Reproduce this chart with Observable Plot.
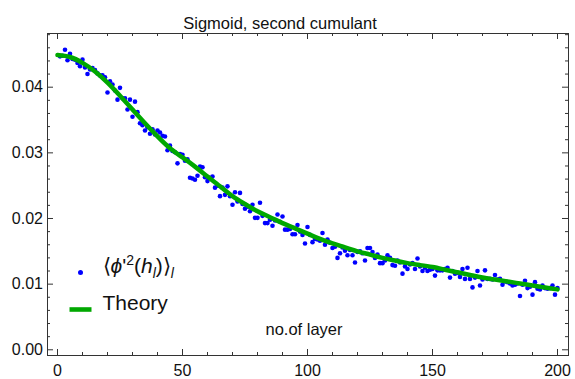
<!DOCTYPE html>
<html><head><meta charset="utf-8">
<script src="https://cdn.jsdelivr.net/npm/d3@7"></script>
<script src="https://cdn.jsdelivr.net/npm/@observablehq/plot@0.6"></script>
<style>body{margin:0;background:#fff} svg{display:block}</style>
</head><body><div id="chart"></div>
<script>
const title = "Sigmoid, second cumulant";
const xLabel = "no.of layer";
const pointsLabel = "\u27E8\u03D5'2(hl)\u27E9l";
const theoryLabel = "Theory";

const layers = d3.range(1, 201);
const measured = [
 .0447,.0448,.0457,.0441,.0451,.0443,.0442,.0437,.0432,.0442,
 .0430,.0420,.0427,.0429,.0426,.0421,.0418,.0418,.0415,.0392,
 .0409,.0404,.0395,.0381,.0399,.0383,.0383,.0366,.0381,.0355,
 .0378,.0362,.0345,.0342,.0334,.0339,.0329,.0336,.0328,.0334,
 .0331,.0326,.0325,.0304,.0311,.0303,.0301,.0284,.0298,.0297,
 .0288,.0290,.0262,.0261,.0259,.0265,.0279,.0278,.0263,.0257,
 .0262,.0264,.0247,.0250,.0234,.0247,.0236,.0249,.0234,.0221,
 .0240,.0226,.0239,.0222,.0215,.0218,.0211,.0221,.0201,.0201,
 .0224,.0204,.0193,.0193,.0198,.0189,.0197,.0206,.0195,.0203,
 .0183,.0183,.0184,.0176,.0176,.0190,.0180,.0175,.0162,.0187,
 .0175,.0164,.0169,.0168,.0166,.0178,.0160,.0168,.0163,.0155,
 .0157,.0140,.0147,.0156,.0151,.0144,.0152,.0144,.0133,.0149,
 .0150,.0147,.0136,.0155,.0155,.0149,.0140,.0145,.0132,.0132,
 .0136,.0144,.0140,.0129,.0128,.0136,.0133,.0116,.0127,.0123,
 .0130,.0132,.0123,.0139,.0127,.0120,.0125,.0120,.0122,.0123,
 .0113,.0121,.0121,.0121,.0123,.0125,.0110,.0120,.0116,.0117,
 .0111,.0123,.0108,.0125,.0108,.0095,.0110,.0120,.0098,.0107,
 .0121,.0108,.0108,.0107,.0114,.0107,.0108,.0099,.0104,.0103,
 .0101,.0098,.0099,.0101,.0082,.0099,.0105,.0094,.0096,.0084,
 .0103,.0093,.0092,.0098,.0094,.0093,.0094,.0098,.0084,.0094
];
const theoryX = [0,5,10,15,20,25,30,35,40,45,50,55,60,65,70,75,80,85,90,95,100,105,110,115,120,125,130,135,140,145,150,155,160,165,170,175,180,185,190,195,200];
const theoryY = [.0449,.0446,.0437,.0424,.0407,.0387,.0366,.0345,.0325,.0307,.0293,.0279,.0264,.0249,.0234,.0222,.0211,.0202,.0193,.0185,.0177,.0169,.0162,.0156,.0150,.0145,.0140,.0136,.0132,.0129,.0126,.0122,.0118,.0114,.0110,.0107,.0104,.0101,.0098,.0095,.0092];
const xTicks = [0,50,100,150,200];
const yTicks = [0,0.01,0.02,0.03,0.04];

const pts = layers.map((l,i)=>({x:l, y:measured[i]}));
const theory = theoryX.map((x,i)=>({x, y:theoryY[i]}));
const xMinor = d3.range(0, 201, 10).filter(v=>v%50!==0);
const yMinor = d3.range(0, 49).filter(v=>v%2===0 && v%10!==0).map(v=>v/1000);

const W=575,H=379,mL=47,mR=7,mT=33,mB=24;
const fw=W-mL-mR, fh=H-mT-mB;
const ink="#333";
const blue="#0000ff", green="#00a800";
const barSymbol = {draw(ctx){ ctx.rect(-11,-2.3,22,4.6); }};

const chart = Plot.plot({
  width: W, height: H,
  marginLeft: mL, marginRight: mR, marginTop: mT, marginBottom: mB,
  style: {fontFamily: "'Liberation Sans', Arial, sans-serif", fontSize: "16px", color: "#111", background: "#fff"},
  x: {domain: [-4, 204.4]},
  y: {domain: [-0.00087, 0.04818]},
  marks: [
    Plot.dot(pts, {x:"x", y:"y", r:2.3, fill: blue}),
    Plot.line(theory, {x:"x", y:"y", stroke: green, strokeWidth: 4.5, curve: "natural"}),
    Plot.frame({stroke: ink}),
    Plot.ruleX(xTicks, {insetTop: fh-6, stroke: ink}),
    Plot.ruleX(xTicks, {insetBottom: fh-6, stroke: ink}),
    Plot.ruleX(xMinor, {insetTop: fh-3, stroke: ink}),
    Plot.ruleX(xMinor, {insetBottom: fh-3, stroke: ink}),
    Plot.ruleY(yTicks, {insetRight: fw-6, stroke: ink}),
    Plot.ruleY(yTicks, {insetLeft: fw-6, stroke: ink}),
    Plot.ruleY(yMinor, {insetRight: fw-3, stroke: ink}),
    Plot.ruleY(yMinor, {insetLeft: fw-3, stroke: ink}),
    Plot.axisX({ticks: xTicks, tickSize: 0, tickPadding: 9, label: null, tickFormat: d=>String(d)}),
    Plot.axisY({ticks: yTicks, tickSize: 0, tickPadding: 4.5, label: null, tickFormat: d=>d.toFixed(2)}),
    Plot.text([title], {frameAnchor: "top", dx: -28, dy: -16.5, fontSize: 16.5}),
    Plot.text([xLabel], {frameAnchor: "bottom", textAnchor: "start", dx: -42.5, dy: -21, fontSize: 16.5}),
    Plot.dot([0], {frameAnchor: "bottom-left", dx: 33, dy: -83, r: 2.5, fill: blue}),
    Plot.text([pointsLabel], {frameAnchor: "bottom-left", dx: 55, dy: -83, textAnchor: "start", fontSize: 21}),
    Plot.dot([0], {frameAnchor: "bottom-left", dx: 33, dy: -46, symbol: barSymbol, fill: green}),
    Plot.text([theoryLabel], {frameAnchor: "bottom-left", dx: 55, dy: -46, textAnchor: "start", fontSize: 21})
  ]
});
document.getElementById("chart").appendChild(chart);

// rich formatting of the points legend label
d3.select(chart).selectAll("text").filter(function(){ return this.textContent === pointsLabel; }).each(function(){
  const t = d3.select(this);
  t.text(null);
  const add = (s, o={}) => { const sp = t.append("tspan").text(s); for (const k in o) sp.attr(k, o[k]); return sp; };
  add("\u27E8");
  add("\u03D5", {"font-style":"italic"});
  add("'");
  add("2", {"font-size":14, dy:-8});
  add("(", {dy:8});
  add("h", {"font-style":"italic"});
  add("l", {"font-style":"italic", "font-size":14, dy:5});
  add(")\u27E9", {dy:-5});
  add("l", {"font-style":"italic", "font-size":14, dy:5});
});
</script></body></html>
